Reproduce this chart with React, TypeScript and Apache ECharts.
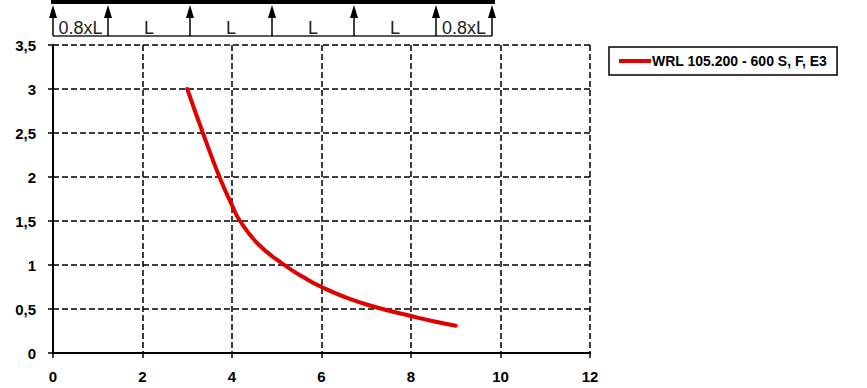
import React, { useEffect, useRef } from "react";
import * as echarts from "echarts";

const seriesName = "WRL 105.200 - 600 S, F, E3";
const xValues = [3, 3.35, 3.72, 4, 4.18, 4.6, 5.17, 5.6, 6, 6.6, 7.22, 8, 8.5, 9];
const yValues = [3, 2.5, 2, 1.68, 1.5, 1.23, 1.0, 0.86, 0.75, 0.62, 0.52, 0.42, 0.36, 0.31];
const spanLabels = ["0.8xL", "L", "L", "L", "L", "0.8xL"];
const supportX = [53, 108, 190, 272, 354, 436, 492];

const FONT = "Arial, 'Liberation Sans', sans-serif";

export default function App() {
  const ref = useRef<HTMLDivElement>(null);
  useEffect(() => {
    if (!ref.current) return;
    const chart = echarts.init(ref.current, undefined, { renderer: "svg" });

    const graphics: any[] = [];
    graphics.push({ type: "rect", shape: { x: 51, y: 0, width: 444, height: 4 }, style: { fill: "#000" } });
    graphics.push({ type: "line", shape: { x1: supportX[0], y1: 36, x2: supportX[supportX.length - 1], y2: 36 }, style: { stroke: "#222", lineWidth: 1.5 } });
    supportX.forEach((x) => {
      graphics.push({ type: "line", shape: { x1: x, y1: 16, x2: x, y2: 36 }, style: { stroke: "#000", lineWidth: 1.5 } });
      graphics.push({ type: "polygon", shape: { points: [[x, 5], [x - 4, 18], [x + 4, 18]] }, style: { fill: "#000" } });
    });
    spanLabels.forEach((t, i) => {
      graphics.push({
        type: "text",
        x: (supportX[i] + supportX[i + 1]) / 2,
        y: 28,
        style: { text: t, fontFamily: FONT, fontSize: 18, fill: "#222", align: "center", verticalAlign: "middle" },
      });
    });

    chart.setOption({
      animation: false,
      backgroundColor: "#fff",
      textStyle: { fontFamily: FONT },
      grid: { left: 53, right: 277, top: 45, bottom: 35, containLabel: false },
      legend: {
        left: 609,
        top: 47,
        orient: "vertical",
        data: [seriesName],
        icon: "rect",
        itemWidth: 32,
        itemHeight: 4,
        itemGap: 4,
        padding: [7, 10, 7, 10],
        borderColor: "#000",
        borderWidth: 1.5,
        textStyle: { fontFamily: FONT, fontSize: 14, fontWeight: "bold", color: "#000", padding: [0, 0, 0, -4] },
      },
      xAxis: {
        type: "value",
        min: 0,
        max: 12,
        interval: 2,
        axisLine: { show: true, onZero: false, lineStyle: { color: "#000", width: 2 } },
        axisTick: { show: true, length: 5, lineStyle: { color: "#000", width: 1.5 } },
        axisLabel: { fontFamily: FONT, fontSize: 15, fontWeight: "bold", color: "#000", margin: 16 },
        splitLine: { show: true, lineStyle: { color: "#000", width: 1.5, type: [6, 3] } },
      },
      yAxis: {
        type: "value",
        min: 0,
        max: 3.5,
        interval: 0.5,
        axisLine: { show: true, onZero: false, lineStyle: { color: "#000", width: 2 } },
        axisTick: { show: true, length: 5, lineStyle: { color: "#000", width: 1.5 } },
        axisLabel: {
          fontFamily: FONT,
          fontSize: 15,
          fontWeight: "bold",
          color: "#000",
          margin: 17,
          formatter: (v: number) => String(v).replace(".", ","),
        },
        splitLine: { show: true, lineStyle: { color: "#000", width: 1.5, type: [6, 3] } },
      },
      series: [
        {
          name: seriesName,
          type: "line",
          data: xValues.map((x, i) => [x, yValues[i]]),
          smooth: 0.5,
          showSymbol: false,
          symbol: "none",
          lineStyle: { color: "#e00000", width: 4, cap: "round" },
          itemStyle: { color: "#e00000" },
        },
      ],
      graphic: graphics,
    });
    return () => chart.dispose();
  }, []);
  return <div ref={ref} style={{ position: "absolute", left: 0, top: 0, width: 867, height: 388 }} />;
}
